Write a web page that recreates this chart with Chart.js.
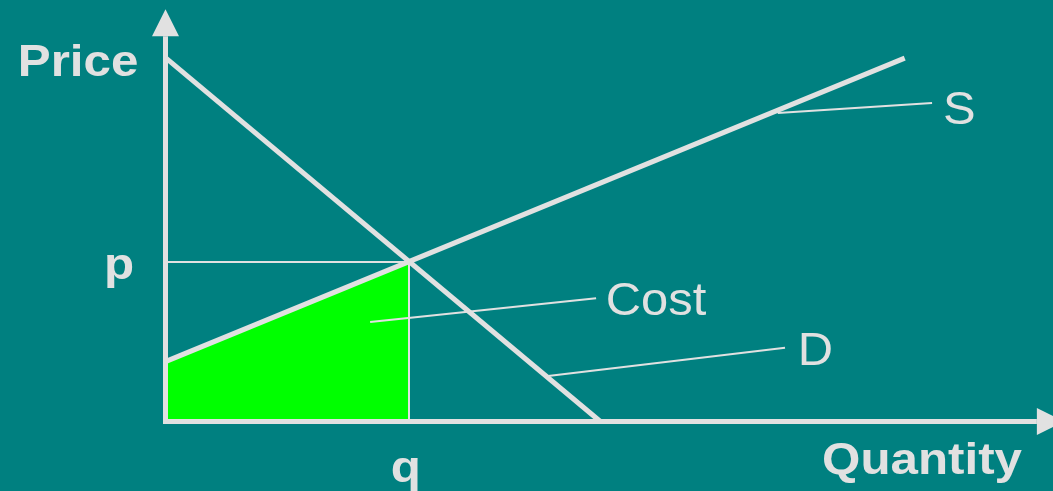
<!DOCTYPE html>
<html>
<head>
<meta charset="utf-8">
<title>Supply and demand</title>
<script src="https://cdn.jsdelivr.net/npm/chart.js@4/dist/chart.umd.min.js"></script>
<style>
    html, body { margin: 0; padding: 0; background: #008080; overflow: hidden; }
    canvas { display: block; }
</style>
</head>
<body>
<canvas id="market-chart" width="1053" height="491"></canvas>
<script>
(function(){
    // Demand and supply curves, quantity against price
    const demandQty = [0, 7.14];
    const demandPrice = [9.13, 0];
    const supplyQty = [0, 12.16];
    const supplyPrice = [1.5, 9.13];

    // Equilibrium (q, p) and the producers' cost area under the supply curve
    const equilibriumQty = 4;
    const equilibriumPrice = 4;
    const costQty = [0, 4];
    const costPrice = [1.5, 4];

    // Where the axis arrows end
    const axisEndQty = 14.78;
    const axisEndPrice = 10.36;

    // Text labels: text, position and weight
    const labelTexts = ['Price', 'p', 'q', 'Quantity', 'S', 'Cost', 'D'];
    const labelQty = [-2.44, -1.02, 3.70, 10.80, 12.79, 7.24, 10.40];
    const labelPrice = [8.67, 3.58, -1.53, -1.33, 7.47, 2.67, 1.41];
    const labelBold = [true, true, true, true, false, false, false];

    // Leader lines from the curve labels: [fromQty, fromPrice, toQty, toPrice]
    const leaders = [
        [10.07, 7.75, 12.61, 8.00],
        [3.36, 2.49, 7.08, 3.09],
        [6.29, 1.13, 10.19, 1.84]
    ];

    const LIGHT = '#e1e1e1';
    const TEAL = '#008080';

    function points(xs, ys){
        return xs.map(function(x, i){ return {x: x, y: ys[i]}; });
    }

    /**
     * Paints the teal background before anything else.
     */
    const background = {
        id: 'background',
        beforeDraw: function(chart){
            const ctx = chart.ctx;
            ctx.save();
            ctx.fillStyle = TEAL;
            ctx.fillRect(0, 0, chart.width, chart.height);
            ctx.restore();
        }
    };

    /**
     * Axis lines with arrow heads, leader lines and the text labels.
     */
    const decorations = {
        id: 'decorations',
        afterDatasetsDraw: function(chart){
            const ctx = chart.ctx;
            const xs = chart.scales.x;
            const ys = chart.scales.y;
            const ox = xs.getPixelForValue(0) - 0.5;
            const oy = ys.getPixelForValue(0) + 0.5;
            const xEnd = xs.getPixelForValue(axisEndQty);
            const yEnd = ys.getPixelForValue(axisEndPrice);
            const head = 27;
            const half = 13.5;

            ctx.save();
            ctx.strokeStyle = LIGHT;
            ctx.fillStyle = LIGHT;
            ctx.lineWidth = 5;
            ctx.lineCap = 'butt';

            // axes
            ctx.beginPath();
            ctx.moveTo(ox, yEnd + head);
            ctx.lineTo(ox, oy + 2.5);
            ctx.moveTo(ox - 2.5, oy);
            ctx.lineTo(xEnd - head, oy);
            ctx.stroke();

            // arrow heads
            ctx.beginPath();
            ctx.moveTo(ox, yEnd);
            ctx.lineTo(ox + half, yEnd + head);
            ctx.lineTo(ox - half, yEnd + head);
            ctx.closePath();
            ctx.fill();

            ctx.beginPath();
            ctx.moveTo(xEnd, oy);
            ctx.lineTo(xEnd - head, oy - half);
            ctx.lineTo(xEnd - head, oy + half);
            ctx.closePath();
            ctx.fill();

            // leader lines
            ctx.lineWidth = 2;
            leaders.forEach(function(l){
                ctx.beginPath();
                ctx.moveTo(xs.getPixelForValue(l[0]), ys.getPixelForValue(l[1]));
                ctx.lineTo(xs.getPixelForValue(l[2]), ys.getPixelForValue(l[3]));
                ctx.stroke();
            });

            // labels
            ctx.textBaseline = 'alphabetic';
            ctx.textAlign = 'left';
            labelTexts.forEach(function(text, i){
                const px = xs.getPixelForValue(labelQty[i]);
                const py = ys.getPixelForValue(labelPrice[i]);
                ctx.save();
                ctx.translate(px, py);
                if (labelBold[i]) {
                    ctx.font = 'bold 44px "Liberation Sans", Arial, sans-serif';
                    ctx.scale(1.12, 1);
                } else {
                    ctx.font = '47px "Liberation Sans", Arial, sans-serif';
                    ctx.scale(1.04, 1);
                }
                ctx.fillText(text, 0, 0);
                ctx.restore();
            });
            ctx.restore();
        }
    };

    const ctx = document.getElementById('market-chart').getContext('2d');
    new Chart(ctx, {
        type: 'line',
        data: {
            datasets: [{
                label: 'Cost',
                data: points(costQty, costPrice),
                fill: 'origin',
                backgroundColor: '#00ff00',
                borderWidth: 0,
                order: 5
            }, {
                label: 'p',
                data: [{x: 0, y: equilibriumPrice}, {x: equilibriumQty, y: equilibriumPrice}],
                borderColor: LIGHT,
                borderWidth: 2,
                order: 4
            }, {
                label: 'q',
                data: [{x: equilibriumQty, y: equilibriumPrice}, {x: equilibriumQty, y: 0}],
                borderColor: LIGHT,
                borderWidth: 2,
                order: 3
            }, {
                label: 'D',
                data: points(demandQty, demandPrice),
                borderColor: LIGHT,
                borderWidth: 5,
                order: 2
            }, {
                label: 'S',
                data: points(supplyQty, supplyPrice),
                borderColor: LIGHT,
                borderWidth: 5,
                order: 1
            }]
        },
        options: {
            responsive: false,
            animation: false,
            events: [],
            layout: { padding: 0 },
            elements: {
                point: { radius: 0 },
                line: { tension: 0, borderCapStyle: 'butt' }
            },
            scales: {
                x: { type: 'linear', display: false, min: -2.7325, max: 14.601 },
                y: { type: 'linear', display: false, min: -1.761, max: 10.591 }
            },
            plugins: {
                legend: { display: false },
                tooltip: { enabled: false }
            }
        },
        plugins: [background, decorations]
    });
})();
</script>
</body>
</html>
